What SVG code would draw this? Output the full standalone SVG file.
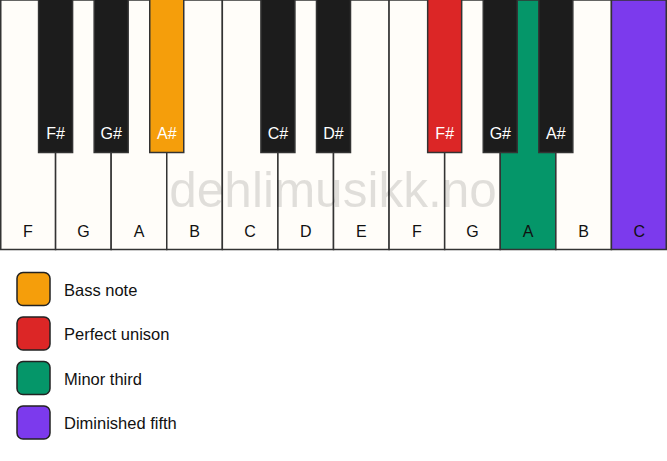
<svg xmlns="http://www.w3.org/2000/svg" width="667" height="461" viewBox="0 0 667 461">
<style>
.w{fill:#fffdf9;stroke:#333;stroke-width:1.5}
.b{fill:#1c1c1c;stroke:#333;stroke-width:1.5}
.wl{font-family:"Liberation Sans",Arial,sans-serif;font-size:16px;fill:#111;text-anchor:middle}
.bl{font-family:"Liberation Sans",Arial,sans-serif;font-size:16px;fill:#fff;text-anchor:middle}
.lg{stroke:#222;stroke-width:1.5}
.lt{font-family:"Liberation Sans",Arial,sans-serif;font-size:16.5px;fill:#111}
</style>
<rect width="667" height="461" fill="#ffffff"/>
<g id="white-keys">
<g id="key-F1"><rect class="w" x="0.75" y="0" width="54.83" height="249.5"/><text class="wl" x="27.8" y="236.5">F</text></g>
<g id="key-G1"><rect class="w" x="55.58" y="0" width="55.58" height="249.5"/><text class="wl" x="83.4" y="236.5">G</text></g>
<g id="key-A1"><rect class="w" x="111.17" y="0" width="55.58" height="249.5"/><text class="wl" x="139" y="236.5">A</text></g>
<g id="key-B1"><rect class="w" x="166.75" y="0" width="55.58" height="249.5"/><text class="wl" x="194.5" y="236.5">B</text></g>
<g id="key-C1"><rect class="w" x="222.33" y="0" width="55.58" height="249.5"/><text class="wl" x="250.1" y="236.5">C</text></g>
<g id="key-D1"><rect class="w" x="277.92" y="0" width="55.58" height="249.5"/><text class="wl" x="305.7" y="236.5">D</text></g>
<g id="key-E1"><rect class="w" x="333.5" y="0" width="55.58" height="249.5"/><text class="wl" x="361.3" y="236.5">E</text></g>
<g id="key-F2"><rect class="w" x="389.08" y="0" width="55.58" height="249.5"/><text class="wl" x="416.9" y="236.5">F</text></g>
<g id="key-G2"><rect class="w" x="444.67" y="0" width="55.58" height="249.5"/><text class="wl" x="472.5" y="236.5">G</text></g>
<g id="key-A2"><rect class="w" x="500.25" y="0" width="55.58" height="249.5" style="fill:#059669"/><text class="wl" x="528" y="236.5">A</text></g>
<g id="key-B2"><rect class="w" x="555.83" y="0" width="55.58" height="249.5"/><text class="wl" x="583.6" y="236.5">B</text></g>
<g id="key-C2"><rect class="w" x="611.42" y="0" width="54.83" height="249.5" style="fill:#7c3aed"/><text class="wl" x="639.2" y="236.5">C</text></g>
</g>
<text x="333" y="207" font-family="Liberation Sans,Arial,sans-serif" font-size="49.5" fill="#000" fill-opacity="0.12" text-anchor="middle">dehlimusikk.no</text>
<g id="black-keys">
<g id="key-Fs1"><rect class="b" x="38.58" y="-1" width="34" height="153.5"/><text class="bl" x="55.6" y="138.5">F#</text></g>
<g id="key-Gs1"><rect class="b" x="94.17" y="-1" width="34" height="153.5"/><text class="bl" x="111.2" y="138.5">G#</text></g>
<g id="key-As1"><rect class="b" x="149.75" y="-1" width="34" height="153.5" style="fill:#f59e0b"/><text class="bl" x="166.8" y="138.5">A#</text></g>
<g id="key-Cs1"><rect class="b" x="260.92" y="-1" width="34" height="153.5"/><text class="bl" x="277.9" y="138.5">C#</text></g>
<g id="key-Ds1"><rect class="b" x="316.5" y="-1" width="34" height="153.5"/><text class="bl" x="333.5" y="138.5">D#</text></g>
<g id="key-Fs2"><rect class="b" x="427.67" y="-1" width="34" height="153.5" style="fill:#dc2626"/><text class="bl" x="444.7" y="138.5">F#</text></g>
<g id="key-Gs2"><rect class="b" x="483.25" y="-1" width="34" height="153.5"/><text class="bl" x="500.3" y="138.5">G#</text></g>
<g id="key-As2"><rect class="b" x="538.83" y="-1" width="34" height="153.5"/><text class="bl" x="555.8" y="138.5">A#</text></g>
</g>
<g id="legend">
<g id="legend-bass"><rect class="lg" x="17" y="272.5" width="33" height="33" rx="6" fill="#f59e0b"/><text class="lt" x="64" y="295.5">Bass note</text></g>
<g id="legend-unison"><rect class="lg" x="17" y="317" width="33" height="33" rx="6" fill="#dc2626"/><text class="lt" x="64" y="340">Perfect unison</text></g>
<g id="legend-third"><rect class="lg" x="17" y="361.5" width="33" height="33" rx="6" fill="#059669"/><text class="lt" x="64" y="384.5">Minor third</text></g>
<g id="legend-fifth"><rect class="lg" x="17" y="406" width="33" height="33" rx="6" fill="#7c3aed"/><text class="lt" x="64" y="429">Diminished fifth</text></g>
</g>
<g id="connectors"/>
</svg>
